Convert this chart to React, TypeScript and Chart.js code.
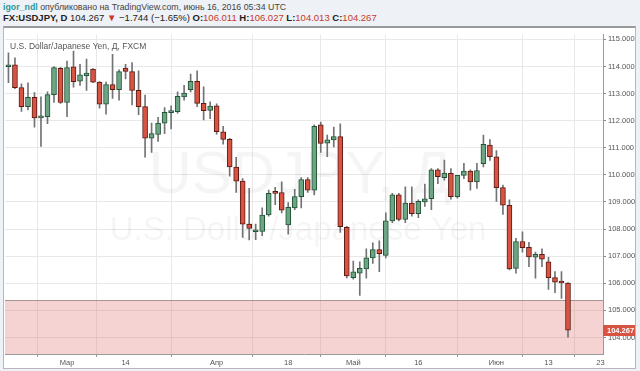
import React, { useEffect, useRef } from "react";
import { Chart, registerables } from "chart.js";
Chart.register(...registerables);

const FONT = "'Liberation Sans', Arial, sans-serif";

const dates = [
  "02-17","02-18","02-19","02-22","02-23","02-24","02-25","02-26","02-29",
  "03-01","03-02","03-03","03-04","03-07","03-08","03-09","03-10","03-11","03-14","03-15","03-16","03-17","03-18","03-21","03-22","03-23","03-24","03-25","03-28","03-29","03-30","03-31",
  "04-01","04-04","04-05","04-06","04-07","04-08","04-11","04-12","04-13","04-14","04-15","04-18","04-19","04-20","04-21","04-22","04-25","04-26","04-27","04-28","04-29",
  "05-02","05-03","05-04","05-05","05-06","05-09","05-10","05-11","05-12","05-13","05-16","05-17","05-18","05-19","05-20","05-23","05-24","05-25","05-26","05-27","05-30","05-31",
  "06-01","06-02","06-03","06-06","06-07","06-08","06-09","06-10","06-13","06-14","06-15","06-16"
];
const opens = [
  113.99,114.06,113.22,112.52,112.86,112.10,112.15,112.96,113.93,
  112.67,113.99,113.46,113.66,113.90,113.42,112.61,113.33,113.14,113.94,113.81,113.12,112.52,111.35,111.49,111.91,112.30,112.33,112.88,113.14,113.45,112.64,112.38,
  112.55,111.59,111.31,110.29,109.77,108.18,107.90,107.91,108.52,109.35,109.35,108.15,108.78,109.20,109.83,109.44,111.85,111.17,111.29,111.41,108.06,
  106.21,106.37,106.53,106.94,107.24,107.03,108.30,109.26,108.36,108.96,108.57,109.00,109.12,110.19,109.90,110.06,109.20,109.98,110.14,109.74,110.41,111.10,
  110.67,109.53,108.88,106.55,107.54,107.33,106.96,107.07,106.79,106.21,106.06,106.011
];
const highs = [
  114.50,114.32,113.36,113.40,113.04,112.88,113.06,114.00,113.97,
  114.20,114.57,114.08,114.27,113.92,113.44,113.42,114.45,113.88,114.08,114.14,113.84,112.94,111.91,112.12,112.48,112.55,113.06,113.30,113.72,113.84,113.25,112.70,
  112.62,111.79,111.35,110.65,109.86,109.50,108.18,108.78,109.44,109.54,109.74,108.98,109.47,109.90,109.90,111.85,111.95,111.47,111.76,111.88,108.10,
  106.82,106.79,107.27,107.49,107.57,108.60,109.32,109.32,109.56,109.56,109.08,109.66,110.23,110.23,110.55,110.23,109.98,110.43,110.19,110.43,111.47,111.30,
  110.90,109.62,109.08,107.66,107.90,107.51,107.15,107.27,106.96,106.43,106.43,106.027
];
const lows = [
  113.40,113.18,112.34,112.40,111.76,111.05,111.89,112.67,112.64,
  112.15,113.24,113.30,113.12,113.40,112.46,112.24,112.82,112.76,113.54,112.58,112.22,110.65,110.83,111.23,111.52,111.70,112.28,112.76,113.06,112.52,112.03,112.07,
  111.50,111.13,109.95,109.35,107.69,107.60,107.61,107.76,108.48,108.90,108.60,107.81,108.72,108.78,109.35,109.26,110.83,110.67,111.03,107.88,106.20,
  106.15,105.55,106.19,106.73,106.43,106.94,108.24,108.30,108.24,108.48,108.42,108.84,108.72,109.68,109.80,109.10,109.14,109.86,109.44,109.50,110.29,110.53,
  109.02,108.54,106.49,106.37,107.15,106.61,106.19,106.61,105.77,105.65,105.44,104.013
];
const closes = [
  114.04,113.22,112.52,112.86,112.10,112.18,112.96,113.96,112.67,
  113.96,113.44,113.69,113.76,113.42,112.61,113.33,113.14,113.81,113.82,113.12,112.52,111.35,111.52,111.91,112.31,112.36,112.90,113.02,113.45,112.64,112.37,112.54,
  111.59,111.31,110.29,109.77,108.18,108.02,107.96,108.52,109.32,109.32,108.70,108.80,109.20,109.83,109.44,111.79,111.16,111.29,111.41,108.09,106.27,
  106.42,106.55,106.94,107.24,107.09,108.30,109.26,108.36,108.96,108.57,109.02,109.12,110.19,109.93,110.07,109.20,109.98,110.14,109.74,110.16,111.13,110.67,
  109.53,108.88,106.53,107.54,107.31,106.97,107.07,106.89,106.21,106.04,106.01,104.267
];

const xTickIndex = [9, 18, 32, 43, 53, 63, 75, 83, 91];
const xTickLabels = ["Мар", "14", "Апр", "18", "Май", "16", "Июн", "13", "23"];
const yTickValues = [104, 105, 106, 107, 108, 109, 110, 111, 112, 113, 114, 115];
const zoneTop = 105.38;
const lastPrice = 104.267;

const UP = "#6ba583";
const UP_B = "#225437";
const DN = "#d75442";
const DN_B = "#5b1a13";
const WICK = "#737375";

const overlayPlugin = {
  id: "overlay",
  beforeDatasetsDraw(chart: any) {
    const { ctx, chartArea, scales } = chart;
    const y = scales.y;
    ctx.save();
    ctx.fillStyle = "rgba(0,0,0,0.04)";
    ctx.textAlign = "center";
    ctx.textBaseline = "alphabetic";
    ctx.font = `60px ${FONT}`;
    ctx.fillText("USDJPY, Д", 295, 165);
    ctx.font = `33px ${FONT}`;
    ctx.fillText("U.S. Dollar/Japanese Yen", 293, 212);
    const zy = y.getPixelForValue(zoneTop);
    ctx.fillStyle = "rgba(222,110,110,0.3)";
    ctx.fillRect(chartArea.left, zy, chartArea.right - chartArea.left, chartArea.bottom - zy);
    ctx.strokeStyle = "#a89494";
    ctx.lineWidth = 1;
    ctx.beginPath();
    ctx.moveTo(chartArea.left, Math.round(zy) + 0.5);
    ctx.lineTo(chartArea.right, Math.round(zy) + 0.5);
    ctx.stroke();
    ctx.restore();
  },
  afterDraw(chart: any) {
    const { ctx, chartArea, scales } = chart;
    const y = scales.y;
    ctx.save();
    ctx.fillStyle = "#555";
    ctx.font = `8.5px ${FONT}`;
    ctx.textAlign = "left";
    ctx.textBaseline = "middle";
    ctx.fillText("U.S. Dollar/Japanese Yen, Д, FXCM", chartArea.left + 5, chartArea.top + 12);
    const py = y.getPixelForValue(lastPrice);
    ctx.fillStyle = DN;
    ctx.fillRect(chartArea.right, Math.round(py) - 5, 34, 11);
    ctx.fillStyle = "#fff";
    ctx.font = `bold 7.5px ${FONT}`;
    ctx.fillText(lastPrice.toFixed(3), chartArea.right + 4, Math.round(py) + 0.5);
    ctx.restore();
  },
};

export default function App() {
  const ref = useRef<HTMLCanvasElement | null>(null);
  useEffect(() => {
    if (!ref.current) return;
    const up = opens.map((o, i) => closes[i] >= o);
    const chart = new Chart(ref.current, {
      type: "bar",
      data: {
        labels: dates,
        datasets: [
          {
            data: opens.map((o, i) => ({ x: i, y: [Math.min(o, closes[i]), Math.max(o, closes[i])] })) as any,
            backgroundColor: up.map((u) => (u ? UP : DN)),
            borderColor: up.map((u) => (u ? UP_B : DN_B)),
            borderWidth: 1,
            borderSkipped: false,
            barThickness: 5,
            minBarLength: 2,
            grouped: false,
            order: 0,
          } as any,
          {
            data: lows.map((l, i) => ({ x: i, y: [l, highs[i]] })) as any,
            backgroundColor: WICK,
            borderWidth: 0,
            barThickness: 1,
            grouped: false,
            order: 1,
          } as any,
        ],
      },
      options: {
        animation: false,
        responsive: false,
        maintainAspectRatio: false,
        layout: { padding: 0 },
        plugins: { legend: { display: false }, tooltip: { enabled: false } },
        scales: {
          x: {
            type: "linear",
            min: -0.53,
            max: 91.38,
            offset: false,
            grid: { color: "#e8e8e8", drawTicks: true, tickLength: 3, tickColor: "#999" },
            border: { color: "#9a9a9a" },
            ticks: {
              autoSkip: false,
              maxRotation: 0,
              padding: 1,
              color: "#555",
              font: { family: FONT, size: 7.5 },
              callback: (v: any) => {
                const k = xTickIndex.indexOf(Number(v));
                return k >= 0 ? xTickLabels[k] : "";
              },
            },
            afterBuildTicks: (s: any) => {
              s.ticks = xTickIndex.map((v) => ({ value: v }));
            },
            afterFit: (s: any) => {
              s.height = 14;
            },
          } as any,
          y: {
            type: "linear",
            position: "right",
            min: 103.39,
            max: 115.18,
            grid: { color: "#e8e8e8", drawTicks: true, tickLength: 3, tickColor: "#888" },
            border: { color: "#9a9a9a" },
            ticks: {
              padding: 2,
              color: "#555",
              font: { family: FONT, size: 7.5 },
              callback: (v: any) => Number(v).toFixed(3),
            },
            afterBuildTicks: (s: any) => {
              s.ticks = yTickValues.map((v) => ({ value: v }));
            },
            afterFit: (s: any) => {
              s.width = 32;
            },
          } as any,
        },
      },
      plugins: [overlayPlugin],
    });
    return () => chart.destroy();
  }, []);

  const red = { color: "#c8392b" };
  return (
    <div style={{ position: "fixed", left: 0, top: 0, width: 640, height: 371, background: "#eef1f5", overflow: "hidden" }}>
      <div style={{ position: "absolute", left: 3, top: 1, fontFamily: FONT, fontSize: 8.8, lineHeight: "12px", color: "#444", whiteSpace: "nowrap" }}>
        <span style={{ color: "#2f9a9e", fontWeight: "bold" }}>igor_ndl</span> опубликовано на TradingView.com, июнь 16, 2016 05:34 UTC
      </div>
      <div style={{ position: "absolute", left: 3, top: 12, fontFamily: FONT, fontSize: 9.5, lineHeight: "12px", color: "#222", whiteSpace: "nowrap" }}>
        <b>FX:USDJPY, D</b> 104.267 <span style={red}>▼</span> −1.744 (−1.65%) <b>O:</b><span style={red}>106.011</span> <b>H:</b><span style={red}>106.027</span> <b>L:</b><span style={red}>104.013</span> <b>C:</b><span style={red}>104.267</span>
      </div>
      <div style={{ position: "absolute", left: 3, top: 26, width: 633, height: 343, boxSizing: "border-box", background: "#fff", border: "1px solid #b8b8b8", borderTop: "2px solid #9a9a9a" }} />
      <canvas ref={ref} width={630} height={340} style={{ position: "absolute", left: 5, top: 28, width: 630, height: 340 }} />
    </div>
  );
}
